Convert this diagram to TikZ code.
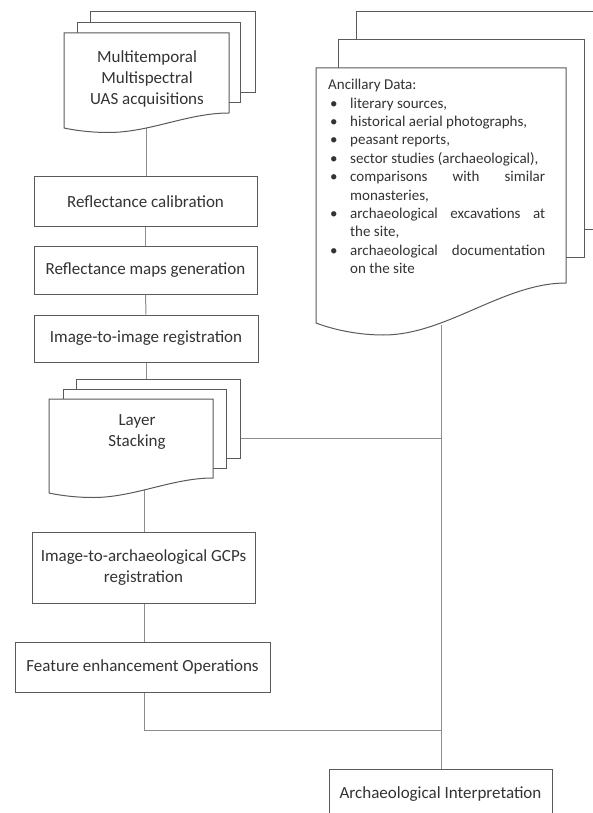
\documentclass[tikz,border=0pt]{standalone}
\usepackage{fontspec}
\setmainfont{Carlito}
\usepackage{tikz}
\usetikzlibrary{positioning,calc}

\definecolor{boxline}{HTML}{5A5A5A}
\definecolor{linkline}{HTML}{8C8C8C}
\definecolor{txt}{HTML}{333333}

\newcommand{\bigtxt}{\fontsize{17}{21}\selectfont}
\newcommand{\smalltxt}{\fontsize{15}{18.4}\selectfont}
\newcommand{\ancitem}{\par\hangindent=22pt\hangafter=1\noindent
  \makebox[22pt][l]{\hspace{2pt}\textbullet}}
% back sheets of a stack
\newcommand{\backsheet}[4]{\filldraw[sheet] (#1,#2) rectangle (#3,#4);}
% front sheet with wavy bottom
\newcommand{\wavesheet}[5]{%
  \filldraw[sheet] (#1,#2) -- (#3,#2) -- (#3,#4)
  .. controls ({#3-0.25*(#3-#1)},#4) and ({#1+0.52*(#3-#1)},{#5+0.3*(#5-#4)})
  .. ({#1+0.27*(#3-#1)},{#5+0.3*(#5-#4)})
  .. controls ({#1+0.15*(#3-#1)},{#5+0.3*(#5-#4)}) and
  ({#1+0.05*(#3-#1)},{#5+0.12*(#5-#4)}) .. (#1,#5) -- cycle;}

\begin{document}
\begin{tikzpicture}[x=1pt, y=-1pt, text=txt,
    sheet/.style={draw=boxline, line width=1pt, fill=white},
    proc/.style={draw=boxline, line width=1pt, fill=white, inner sep=0pt,
      minimum width=223pt, minimum height=49pt, align=center, font=\bigtxt},
    label/.style={align=center, inner sep=0pt, font=\bigtxt},
    link/.style={draw=linkline, line width=1pt}]

  \useasboundingbox (0,0) rectangle (593,813);

  % connectors first, sheets and boxes on top
  \coordinate (uas-b) at (146,125);
  \coordinate (lay-t) at (146,379);
  \coordinate (lay-b) at (144,490);
  \coordinate (lay-r) at (240,438);
  \coordinate (anc-b) at (441,325);
  \coordinate (merge) at (441,730);

  \node[proc] (calib) at (145.5,201.5) {Reflectance calibration};
  \node[proc, minimum height=48pt] (maps) at (145.5,270)
    {Reflectance maps generation};
  \node[proc, minimum width=224pt, minimum height=47pt] (imreg)
    at (146,338.5) {Image-to-image registration};
  \node[proc, minimum height=71pt] (gcps) at (143.5,567.5)
    {Image-to-archaeological GCPs\\registration};
  \node[proc, minimum width=255pt, minimum height=50pt] (feat)
    at (142.5,667) {Feature enhancement Operations};
  \node[proc, minimum height=50pt] (interp) at (440.5,794)
    {Archaeological Interpretation};

  \draw[link] (uas-b) -- (uas-b |- calib.north);
  \draw[link] (calib.south) -- (maps.north);
  \draw[link] (maps.south) -- (imreg.north);
  \draw[link] (imreg.south -| lay-t) -- (lay-t);
  \draw[link] (lay-b) -- (lay-b |- gcps.north);
  \draw[link] (gcps.south -| lay-b) -- (feat.north -| lay-b);
  \draw[link] (feat.south -| lay-b) |- (merge);
  \draw[link] (lay-r) -- (lay-r -| anc-b);
  \draw[link] (anc-b) -- (anc-b |- interp.north);

  % UAS stack
  \backsheet{90}{12}{255}{93}
  \backsheet{77}{23}{240}{103}
  \wavesheet{64}{33}{229}{113}{128}
  \node[label] (uas) at (147,79)
    {Multitemporal\\Multispectral\\UAS acquisitions};

  % layer stack
  \backsheet{76}{379}{240}{458}
  \backsheet{63}{389}{226}{468}
  \wavesheet{49}{399}{213}{478}{493}
  \node[label] (layer) at (137,432.5) {Layer\\Stacking};

  % ancillary stack
  \backsheet{356}{12}{602}{229}
  \backsheet{338}{40}{584}{257}
  \wavesheet{316}{68}{566}{283}{323}
  \node[anchor=north west, inner sep=0pt, text width=217pt, align=justify,
    font=\smalltxt] (anc) at (328,79) {\noindent Ancillary Data:
    \ancitem literary sources,
    \ancitem historical aerial photographs,
    \ancitem peasant reports,
    \ancitem sector studies (archaeological),
    \ancitem comparisons with similar\linebreak monasteries,
    \ancitem archaeological excavations at\linebreak the site,
    \ancitem archaeological documentation\linebreak on the site\par};

\end{tikzpicture}
\end{document}
